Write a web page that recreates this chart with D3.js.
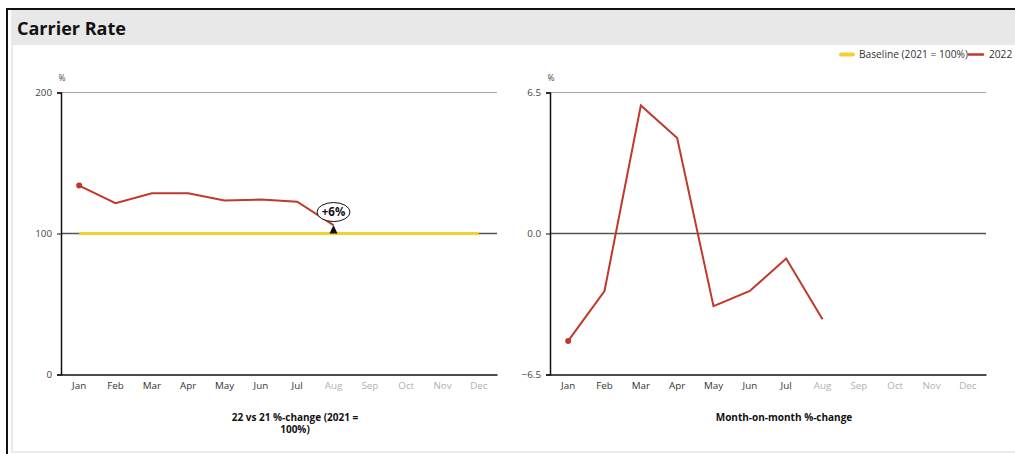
<!DOCTYPE html>
<html>
<head>
<meta charset="utf-8">
<script src="https://cdn.jsdelivr.net/npm/d3@7/dist/d3.min.js"></script>
<style>
  html, body { margin: 0; padding: 0; background: #fff; }
  svg { display: block; font-family: "Open Sans", "Noto Sans", sans-serif; }
</style>
</head>
<body>
<svg id="chart" width="1015" height="454"></svg>
<script>
// Month categories; months after the last reported one are drawn in grey
const months = ["Jan","Feb","Mar","Apr","May","Jun","Jul","Aug","Sep","Oct","Nov","Dec"];
const reportedMonths = 8;

// 2022 carrier rate indexed to 2021 (= 100%)
const rate2022 = [134.0, 121.5, 128.6, 128.6, 123.4, 124.1, 122.5, 106];
// Baseline 2021 = 100% across the full year
const baseline = [100,100,100,100,100,100,100,100,100,100,100,100];
// Month-on-month %-change
const momChange = [-4.95, -2.65, 5.9, 4.4, -3.35, -2.65, -1.15, -3.95];

// Axis ticks
const leftTicks = [0, 100, 200];
const rightTicks = [-6.5, 0, 6.5];

const annotationLabel = "+6%";
const leftTitle = ["22 vs 21 %-change (2021 =", "100%)"];
const rightTitle = ["Month-on-month %-change"];
const legendLabels = ["Baseline (2021 = 100%)", "2022"];

const RED = "#c0392b";
const YELLOW = "#f2cf2c";

const svg = d3.select("#chart");

// Card frame and header band
svg.append("rect").attr("x", 12).attr("y", 10).attr("width", 1010).attr("height", 442)
  .attr("fill", "#fff").attr("stroke", "#e4e4e4").attr("stroke-width", 1.5);
svg.append("rect").attr("x", 12).attr("y", 10).attr("width", 1010).attr("height", 35)
  .attr("fill", "#e8e8e8");
svg.append("line").attr("x1", 7).attr("x2", 1015).attr("y1", 9).attr("y2", 9)
  .attr("stroke", "#111").attr("stroke-width", 2);
svg.append("line").attr("x1", 7).attr("x2", 7).attr("y1", 8).attr("y2", 454)
  .attr("stroke", "#111").attr("stroke-width", 2);
svg.append("text").attr("x", 17).attr("y", 35).text("Carrier Rate")
  .attr("font-size", 18).attr("font-weight", 700).attr("fill", "#111");

// Legend: yellow swatch, label, red swatch, label — laid out left to right
const legend = svg.append("g").attr("font-size", 10.2).attr("fill", "#333");
legend.append("line").attr("x1", 841).attr("x2", 853).attr("y1", 54.5).attr("y2", 54.5)
  .attr("stroke", YELLOW).attr("stroke-width", 4).attr("stroke-linecap", "round");
const l1 = legend.append("text").attr("x", 859).attr("y", 58).text(legendLabels[0]);
const l1end = 859 + l1.node().getComputedTextLength();
legend.append("line").attr("x1", l1end).attr("x2", l1end + 16).attr("y1", 54.5).attr("y2", 54.5)
  .attr("stroke", RED).attr("stroke-width", 2.5);
legend.append("text").attr("x", l1end + 21).attr("y", 58).text(legendLabels[1]);

function panel(opts) {
  const g = svg.append("g");
  const x = d3.scaleBand().domain(months).range([opts.x0, opts.x1]);
  const cx = m => x(m) + x.bandwidth() / 2;
  const y = d3.scaleLinear().domain(opts.domain).range([374.5, 92.5]);

  // horizontal reference lines
  g.append("line").attr("x1", opts.x0).attr("x2", opts.x1)
    .attr("y1", y(opts.domain[1])).attr("y2", y(opts.domain[1]))
    .attr("stroke", "#a8a8a8").attr("stroke-width", 1.2);
  g.append("line").attr("x1", opts.x0).attr("x2", opts.x1)
    .attr("y1", y(opts.refValue)).attr("y2", y(opts.refValue))
    .attr("stroke", "#555").attr("stroke-width", 1.4);

  // y axis
  const yAxis = g.append("g").attr("transform", `translate(${opts.x0},0)`)
    .call(d3.axisLeft(y).tickValues(opts.ticks).tickSize(4).tickPadding(5).tickFormat(opts.fmt));
  yAxis.select(".domain").attr("stroke", "#111").attr("stroke-width", 1.5);
  yAxis.selectAll(".tick line").attr("stroke", "#111");
  yAxis.selectAll(".tick text").attr("font-size", 9.8).attr("fill", "#444")
    .attr("font-family", "\"Open Sans\", sans-serif");

  // x axis
  const xAxis = g.append("g").attr("transform", `translate(0,${y(opts.domain[0])})`)
    .call(d3.axisBottom(x).tickSize(0).tickPadding(8));
  xAxis.select(".domain").attr("stroke", "#111").attr("stroke-width", 1.5);
  xAxis.selectAll(".tick text").attr("font-size", 9.8)
    .attr("font-family", "\"Open Sans\", sans-serif")
    .attr("fill", (d, i) => i < reportedMonths - 1 ? "#333" : "#b0b0b0");

  // unit label
  g.append("text").attr("x", opts.x0 + 1).attr("y", 81).attr("text-anchor", "middle")
    .attr("font-size", 8.5).attr("fill", "#444").text("%");

  // axis title
  const t = g.append("text").attr("text-anchor", "middle").attr("font-size", 10)
    .attr("font-weight", 700).attr("fill", "#111");
  opts.title.forEach((line, i) => {
    t.append("tspan").attr("x", opts.titleX).attr("y", 421 + i * 12).text(line);
  });

  return { g, x, cx, y };
}

// Left panel: index vs 2021
const L = panel({ x0: 61, x1: 497, domain: [0, 200], ticks: leftTicks, refValue: 100,
  fmt: d3.format("d"), title: leftTitle, titleX: 295 });

L.g.append("path")
  .attr("d", d3.line().x((d, i) => L.cx(months[i])).y(d => L.y(d))(baseline))
  .attr("fill", "none").attr("stroke", YELLOW).attr("stroke-width", 3.2);

L.g.append("path")
  .attr("d", d3.line().x((d, i) => L.cx(months[i])).y(d => L.y(d))(rate2022))
  .attr("fill", "none").attr("stroke", RED).attr("stroke-width", 2);
L.g.append("circle").attr("cx", L.cx(months[0])).attr("cy", L.y(rate2022[0]))
  .attr("r", 3).attr("fill", RED);

// annotation on the latest month
const ax = L.cx(months[reportedMonths - 1]);
const ay = L.y(rate2022[reportedMonths - 1]);
L.g.append("path")
  .attr("d", `M${ax},${ay} L${ax + 4},${ay + 8.5} L${ax - 4},${ay + 8.5} Z`)
  .attr("fill", "#111");
L.g.append("ellipse").attr("cx", ax).attr("cy", ay - 13).attr("rx", 16.5).attr("ry", 9.5)
  .attr("fill", "#fff").attr("stroke", "#111").attr("stroke-width", 1);
L.g.append("text").attr("x", ax).attr("y", ay - 9).attr("text-anchor", "middle")
  .attr("font-size", 11.5).attr("font-weight", 700).attr("fill", "#111").text(annotationLabel);

// Right panel: month-on-month change
const R = panel({ x0: 550, x1: 986, domain: [-6.5, 6.5], ticks: rightTicks, refValue: 0,
  fmt: d3.format(".1f"), title: rightTitle, titleX: 784 });

R.g.append("path")
  .attr("d", d3.line().x((d, i) => R.cx(months[i])).y(d => R.y(d))(momChange))
  .attr("fill", "none").attr("stroke", RED).attr("stroke-width", 2);
R.g.append("circle").attr("cx", R.cx(months[0])).attr("cy", R.y(momChange[0]))
  .attr("r", 3).attr("fill", RED);
</script>
</body>
</html>
